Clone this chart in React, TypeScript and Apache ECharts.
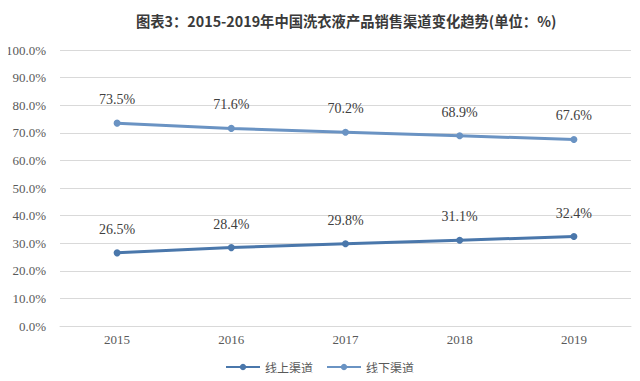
import React, { useEffect, useRef } from "react";
import * as echarts from "echarts";

const years = ["2015", "2016", "2017", "2018", "2019"];
const onlineShare = [26.5, 28.4, 29.8, 31.1, 32.4];
const offlineShare = [73.5, 71.6, 70.2, 68.9, 67.6];
const seriesNames = ["线上渠道", "线下渠道"];
const titleText = "图表3：2015-2019年中国洗衣液产品销售渠道变化趋势(单位：%)";

export default function App() {
  const ref = useRef<HTMLDivElement>(null);
  useEffect(() => {
    if (!ref.current) return;
    const chart = echarts.init(ref.current, null, { renderer: "svg" });
    const serif = "Liberation Serif";
    const labelStyle = {
      show: true,
      position: "top" as const,
      distance: 13,
      fontFamily: serif,
      fontSize: 14,
      color: "#404040",
      formatter: (p: any) => p.value.toFixed(1) + "%",
    };
    chart.setOption({
      animation: false,
      backgroundColor: "#ffffff",
      title: {
        text: titleText,
        left: 131,
        top: 8,
        textStyle: {
          fontFamily: "Noto Sans CJK SC",
          fontWeight: "bold",
          fontSize: 14.3,
          color: "#3a3a3a",
        },
      },
      legend: {
        bottom: 3,
        left: 220,
        itemWidth: 34,
        itemHeight: 8,
        itemGap: 13,
        textStyle: {
          fontFamily: "Noto Sans CJK SC",
          fontSize: 12,
          color: "#595959",
        },
        data: seriesNames,
      },
      grid: {
        left: 60,
        right: 9,
        top: 50,
        bottom: 55,
        containLabel: false,
        outerBoundsMode: "none",
      },
      xAxis: {
        type: "category",
        data: years,
        boundaryGap: true,
        axisLine: { show: true, lineStyle: { color: "#d9d9d9" } },
        axisTick: { show: false },
        axisLabel: {
          fontFamily: serif,
          fontSize: 13,
          color: "#595959",
          margin: 7,
        },
      },
      yAxis: {
        type: "value",
        min: 0,
        max: 100,
        interval: 10,
        axisLine: { show: false },
        axisTick: { show: false },
        axisLabel: {
          fontFamily: serif,
          fontSize: 13,
          color: "#595959",
          margin: 14,
          formatter: (v: number) => v.toFixed(1) + "%",
        },
        splitLine: { lineStyle: { color: "#d9d9d9", width: 1 } },
      },
      series: [
        {
          name: seriesNames[0],
          type: "line",
          data: onlineShare,
          symbol: "circle",
          symbolSize: 7,
          lineStyle: { width: 3, color: "#4a77ab" },
          itemStyle: { color: "#4a77ab" },
          label: labelStyle,
        },
        {
          name: seriesNames[1],
          type: "line",
          data: offlineShare,
          symbol: "circle",
          symbolSize: 7,
          lineStyle: { width: 3, color: "#6a93c3" },
          itemStyle: { color: "#6a93c3" },
          label: labelStyle,
        },
      ],
    });
    return () => chart.dispose();
  }, []);
  return <div ref={ref} style={{ width: 640, height: 381, margin: -8 }} />;
}
